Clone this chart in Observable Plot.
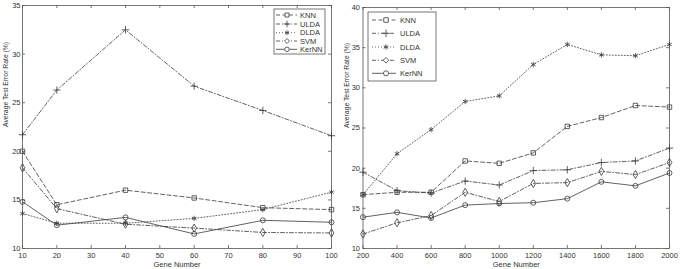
<!DOCTYPE html>
<html><head><meta charset="utf-8">
<script src="https://cdn.jsdelivr.net/npm/d3@7"></script>
<script src="https://cdn.jsdelivr.net/npm/@observablehq/plot@0.6"></script>
<style>
body{margin:0;background:#fff;}
#wrap{position:relative;width:685px;height:269px;overflow:hidden;font-family:"Liberation Sans",Arial,sans-serif;}
#wrap > svg{position:absolute;top:0;}
</style></head>
<body><div id="wrap"></div>
<script>
const methods = ["KNN", "ULDA", "DLDA", "SVM", "KerNN"];

// Left panel
const leftGenes = [10, 20, 40, 60, 80, 100];
const leftKNN   = [20.0, 14.5, 16.0, 15.2, 14.2, 14.0];
const leftULDA  = [21.7, 26.3, 32.5, 26.7, 24.2, 21.6];
const leftDLDA  = [13.6, 12.6, 12.6, 13.1, 14.0, 15.8];
const leftSVM   = [18.3, 14.1, 12.5, 12.1, 11.65, 11.6];
const leftKerNN = [14.8, 12.4, 13.2, 11.5, 12.9, 12.7];
const leftXTicks = [10, 20, 30, 40, 50, 60, 70, 80, 90, 100];
const leftYTicks = [10, 15, 20, 25, 30, 35];

// Right panel
const rightGenes = [200, 400, 600, 800, 1000, 1200, 1400, 1600, 1800, 2000];
const rightKNN   = [16.7, 17.0, 17.0, 20.9, 20.6, 21.9, 25.2, 26.3, 27.8, 27.6];
const rightULDA  = [19.5, 17.2, 16.9, 18.4, 17.9, 19.7, 19.8, 20.7, 20.9, 22.5];
const rightDLDA  = [16.7, 21.8, 24.8, 28.3, 29.0, 32.9, 35.4, 34.1, 34.0, 35.4];
const rightSVM   = [11.8, 13.2, 14.1, 17.0, 15.85, 18.1, 18.2, 19.6, 19.2, 20.7];
const rightKerNN = [13.9, 14.5, 13.8, 15.4, 15.6, 15.7, 16.2, 18.3, 17.8, 19.4];
const rightXTicks = [200, 400, 600, 800, 1000, 1200, 1400, 1600, 1800, 2000];
const rightYTicks = [10, 15, 20, 25, 30, 35, 40];

const yLabel = "Average Test Error Rate (%)";
const xLabel = "Gene Number";

const dash = {KNN: "4,2.5", ULDA: "4,2,1,2", DLDA: "1,2", SVM: "4,2,1,2", KerNN: null};
const symbols = {KNN: "square", ULDA: "plus", DLDA: "asterisk", SVM: "diamond", KerNN: "circle"};
const ink = "#3a3a3a";

function rowsFor(genes, series) {
  const out = [];
  methods.forEach((m, i) => genes.forEach((g, j) => out.push({method: m, gene: g, rate: series[i][j]})));
  return out;
}

function panel({genes, series, xTicks, yTicks, yDomain, width, ml, mr, mt, mb, yPad, yLabDx}) {
  const height = 269;
  const rows = rowsFor(genes, series);
  const ph = height - mt - mb, pw = width - ml - mr;
  return Plot.plot({
    width, height, marginLeft: ml, marginRight: mr, marginTop: mt, marginBottom: mb,
    style: {fontFamily: '"Liberation Sans", Arial, sans-serif', fontSize: "7.5px", color: "#333", background: "transparent"},
    x: {domain: [genes[0], genes[genes.length - 1]]},
    y: {domain: yDomain},
    symbol: {domain: methods, range: methods.map(m => symbols[m])},
    marks: [
      Plot.frame({stroke: "#555", strokeWidth: 0.8}),
      Plot.tickX(xTicks, {x: d => d, insetTop: ph - 3, stroke: "#555", strokeWidth: 0.8}),
      Plot.tickX(xTicks, {x: d => d, insetBottom: ph - 3, stroke: "#555", strokeWidth: 0.8}),
      Plot.tickY(yTicks, {y: d => d, insetRight: pw - 3, stroke: "#555", strokeWidth: 0.8}),
      Plot.tickY(yTicks, {y: d => d, insetLeft: pw - 3, stroke: "#555", strokeWidth: 0.8}),
      Plot.axisX({ticks: xTicks, tickSize: 0, tickPadding: 4, label: null, fontSize: 7.5, tickFormat: d => String(d)}),
      Plot.axisY({ticks: yTicks, tickSize: 0, tickPadding: yPad, label: null, fontSize: 7.5, tickFormat: d => String(d)}),
      Plot.text([xLabel], {frameAnchor: "bottom", lineAnchor: "middle", dy: 15.8, fill: "#333", fontSize: 7.5}),
      Plot.text([yLabel], {frameAnchor: "left", lineAnchor: "middle", rotate: -90, dx: yLabDx, fill: "#333", fontSize: 6.8}),
      ...methods.map(m => Plot.line(rows.filter(r => r.method === m), {
        x: "gene", y: "rate", stroke: ink, strokeWidth: 0.8, strokeDasharray: dash[m]
      })),
      Plot.dot(rows, {
        x: "gene", y: "rate", symbol: "method", r: 2.5, stroke: ink, strokeWidth: 0.8,
        fill: d => d.method === "DLDA" ? ink : "none"
      })
    ]
  });
}

const wrap = document.getElementById("wrap");
const left = panel({
  genes: leftGenes, series: [leftKNN, leftULDA, leftDLDA, leftSVM, leftKerNN],
  xTicks: leftXTicks, yTicks: leftYTicks, yDomain: [10, 35],
  width: 342, ml: 22, mr: 11, mt: 5, mb: 21, yPad: 2, yLabDx: -16.5
});
left.style.left = "0px";
wrap.appendChild(left);

const right = panel({
  genes: rightGenes, series: [rightKNN, rightULDA, rightDLDA, rightSVM, rightKerNN],
  xTicks: rightXTicks, yTicks: rightYTicks, yDomain: [10, 40],
  width: 343, ml: 20.5, mr: 16, mt: 7, mb: 21, yPad: 3, yLabDx: -16.5
});
right.style.left = "342px";
wrap.appendChild(right);

// Legends (overlay)
const ov = d3.select(wrap).append("svg").attr("width", 685).attr("height", 269)
  .style("left", "0px").style("pointer-events", "none");

function legend(box, rowY, lineX0, lineX1, symX, textX, symSize) {
  const g = ov.append("g");
  g.append("rect").attr("x", box[0]).attr("y", box[1]).attr("width", box[2] - box[0]).attr("height", box[3] - box[1])
    .attr("fill", "#fff").attr("stroke", "#555").attr("stroke-width", 0.8);
  const symMap = {square: d3.symbolSquare, plus: d3.symbolPlus, asterisk: d3.symbolAsterisk, diamond: d3.symbolDiamond2, circle: d3.symbolCircle};
  methods.forEach((m, i) => {
    const y = rowY[i];
    g.append("line").attr("x1", lineX0).attr("x2", lineX1).attr("y1", y).attr("y2", y)
      .attr("stroke", ink).attr("stroke-width", 0.8).attr("stroke-dasharray", dash[m]);
    const path = d3.symbol(symMap[symbols[m]], symSize)();
    g.append("path").attr("transform", `translate(${symX},${y})`).attr("d", path)
      .attr("fill", m === "DLDA" ? ink : (m === "ULDA" ? "none" : "#fff"))
      .attr("stroke", ink).attr("stroke-width", 0.8);
    g.append("text").attr("x", textX).attr("y", y).attr("dy", "0.35em")
      .attr("font-size", 7.5).attr("fill", "#333").attr("font-family", '"Liberation Sans", Arial, sans-serif').text(m);
  });
}
legend([274, 9, 325, 54], [15, 24, 32.7, 41, 49.3], 276, 297, 287, 300, 16);
legend([368, 12, 436, 81], [20, 33.3, 47, 60.3, 73.3], 372, 396, 386, 400, 20);
</script></body></html>
